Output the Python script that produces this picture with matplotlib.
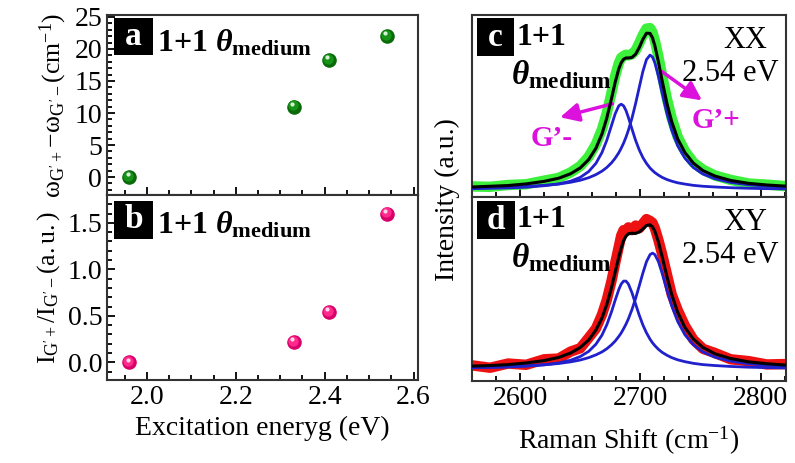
#!/usr/bin/env python3

"""Splitting of the G' band in 1+1 theta-medium bilayer: peak separation, intensity ratio and spectra."""

import matplotlib.pyplot as plt
import numpy as np
from matplotlib.patches import Rectangle
from matplotlib.ticker import MultipleLocator
from matplotlib.transforms import offset_copy

SERIF = "Liberation Serif"
plt.rcParams["font.family"] = [SERIF, "DejaVu Serif"]
plt.rcParams["mathtext.fontset"] = "custom"
plt.rcParams["mathtext.rm"] = SERIF
plt.rcParams["mathtext.it"] = SERIF + ":italic:bold"
plt.rcParams["mathtext.bf"] = SERIF + ":bold"
plt.rcParams["axes.linewidth"] = 1.5
plt.rcParams["axes.edgecolor"] = "#333333"

# excitation energies and the two derived quantities
energy = [1.96, 2.33, 2.41, 2.54]
split = [0.0, 11.0, 18.3, 22.0]
ratio = [0.0, 0.22, 0.54, 1.60]

# Raman shift grid (cm-1) for the spectra at 2.54 eV
shift = [2560, 2575, 2590, 2605, 2620, 2632, 2642, 2650, 2657, 2663,
         2668, 2672, 2676, 2679, 2682, 2684, 2686, 2688, 2690, 2693,
         2696, 2699, 2702, 2705, 2708, 2710, 2712, 2715, 2718, 2722,
         2726, 2731, 2737, 2744, 2752, 2762, 2775, 2790, 2805, 2820]

# XX polarization: measured spectrum and the two fitted components
xx_base = 0.04
xx_meas = [.058, .056, .066, .070, .090, .105, .135, .170, .222, .290,
           .372, .460, .575, .665, .735, .765, .775, .782, .778, .785,
           .805, .845, .890, .925, .928, .905, .860, .770, .668, .540,
           .432, .330, .252, .190, .150, .118, .094, .074, .068, .060]
xx_minus = [.006, .008, .010, .014, .022, .032, .047, .068, .100, .145,
            .204, .271, .354, .417, .461, .470, .461, .435, .397, .333,
            .271, .219, .177, .145, .119, .106, .094, .080, .068, .056,
            .047, .038, .031, .024, .019, .015, .011, .008, .006, .005]
xx_plus = [.009, .011, .013, .018, .024, .031, .041, .052, .066, .083,
           .102, .122, .148, .173, .203, .228, .256, .289, .327, .394,
           .474, .562, .649, .715, .740, .729, .697, .621, .532, .419,
           .327, .241, .173, .122, .086, .060, .040, .027, .020, .015]

# XY polarization
xy_base = 0.065
xy_meas = [.085, .072, .095, .088, .118, .122, .160, .178, .235, .285,
           .360, .440, .545, .640, .730, .790, .820, .815, .835, .820,
           .845, .830, .855, .880, .870, .860, .830, .765, .690, .580,
           .470, .385, .300, .225, .175, .152, .118, .108, .090, .092]
xy_minus = [.007, .009, .011, .016, .023, .033, .048, .068, .096, .135,
            .184, .240, .312, .374, .432, .462, .478, .478, .462, .414,
            .353, .293, .240, .197, .162, .143, .127, .107, .091, .075,
            .062, .050, .040, .031, .024, .019, .014, .010, .008, .006]
xy_plus = [.009, .010, .013, .017, .023, .030, .039, .049, .062, .077,
           .093, .110, .132, .152, .177, .196, .219, .244, .273, .324,
           .384, .452, .521, .583, .622, .630, .622, .583, .521, .429,
           .343, .258, .186, .132, .093, .064, .043, .029, .021, .016]

fig = plt.figure(figsize=(7.95, 4.63), dpi=100)
ax_a = fig.add_axes([0.1346, 0.5788, 0.3912, 0.3888])
ax_b = fig.add_axes([0.1346, 0.1793, 0.3912, 0.3995])
ax_c = fig.add_axes([0.5937, 0.5745, 0.3950, 0.3931])
ax_d = fig.add_axes([0.5937, 0.1771, 0.3950, 0.3974])

TICK = 20
MAG = "#dd11dd"


def sphere(ax, x, y, dark, mid, light):
    # fake 3D ball: dark rim, lighter body, small highlight up-left
    ax.scatter(x, y, s=110, color=dark, zorder=5, linewidths=0)
    body = offset_copy(ax.transData, fig=fig, x=-0.6, y=0.8, units="points")
    ax.scatter(x, y, s=55, color=mid, zorder=6, linewidths=0, transform=body)
    hi = offset_copy(ax.transData, fig=fig, x=-1.2, y=2.0, units="points")
    ax.scatter(x, y, s=9, color=light, zorder=7, linewidths=0, transform=hi)


def tag(ax, letter, box):
    # black square with a white bold letter, box = (x0, y0, w, h) in axes fraction
    x0, y0, w, h = box
    ax.add_patch(Rectangle((x0, y0), w, h, transform=ax.transAxes,
                           fc="black", ec="none", zorder=8))
    ax.text(x0 + w / 2, y0 + h / 2, letter, transform=ax.transAxes,
            ha="center", va="center", color="white", fontsize=24,
            fontweight="bold", zorder=9)


def style_ticks(ax):
    ax.tick_params(which="both", direction="in", top=False, right=False,
                   labelsize=TICK, labelfontfamily=SERIF, width=1.3)
    ax.tick_params(which="major", length=6)
    ax.tick_params(which="minor", length=3.5)


for ax in (ax_a, ax_b):
    ax.set_xlim(1.91, 2.61)
    ax.xaxis.set_major_locator(MultipleLocator(0.2))
    ax.xaxis.set_minor_locator(MultipleLocator(0.05))
    style_ticks(ax)

sphere(ax_a, energy, split, "#0a6a0a", "#179317", "#d8f2d8")
ax_a.set_ylim(-2.8, 25.3)
ax_a.yaxis.set_major_locator(MultipleLocator(5))
ax_a.yaxis.set_minor_locator(MultipleLocator(1))
ax_a.tick_params(labelbottom=False)
ax_a.set_ylabel(r"$\mathrm{\omega_{G'+}\!-\!\omega_{G'-}(cm^{-1})}$",
                fontsize=18.5, labelpad=4)
tag(ax_a, "a", (0.0225, 0.778, 0.125, 0.205))
ax_a.text(0.16, 0.80, r"1+1 $\theta_{\mathbf{medium}}$", transform=ax_a.transAxes,
          fontsize=23, fontweight="bold", ha="left", va="baseline")

sphere(ax_b, energy, ratio, "#d8006a", "#ff2a8c", "#ffd6ea")
ax_b.set_ylim(-0.19, 1.80)
ax_b.yaxis.set_major_locator(MultipleLocator(0.5))
ax_b.yaxis.set_minor_locator(MultipleLocator(0.1))
ax_b.set_ylabel(r"$\mathrm{I_{G'+}/I_{G'-}(a.u.)}$", fontsize=18.5, labelpad=4)
ax_b.set_xlabel("Excitation eneryg (eV)", fontsize=20, labelpad=4)
tag(ax_b, "b", (0.0225, 0.762, 0.125, 0.206))
ax_b.text(0.16, 0.79, r"1+1 $\theta_{\mathbf{medium}}$", transform=ax_b.transAxes,
          fontsize=23, fontweight="bold", ha="left", va="baseline")

x = np.array(shift)
panels = [
    (ax_c, "c", "XX", xx_base, xx_meas, xx_minus, xx_plus, "#3cf03c",
     (0.016, 0.776, 0.118, 0.206)),
    (ax_d, "d", "XY", xy_base, xy_meas, xy_minus, xy_plus, "#ee1111",
     (0.016, 0.770, 0.120, 0.210)),
]
for ax, letter, pol, base, meas, lo, hi, col, box in panels:
    lo = base + np.array(lo)
    hi = base + np.array(hi)
    total = lo + hi - base
    ax.plot(x, meas, color=col, lw=7.5, solid_capstyle="round",
            solid_joinstyle="round", zorder=2)
    ax.plot(x, lo, color="#2020cc", lw=2, zorder=3)
    ax.plot(x, hi, color="#2020cc", lw=2, zorder=3)
    ax.plot(x, total, color="black", lw=2.2, zorder=4)
    ax.set_xlim(2560, 2821)
    ax.set_ylim(0, 1)
    ax.xaxis.set_major_locator(MultipleLocator(100))
    ax.xaxis.set_minor_locator(MultipleLocator(20))
    style_ticks(ax)
    ax.tick_params(which="both", left=False, labelleft=False)
    tag(ax, letter, box)
    ax.text(0.143, 0.835, "1+1", transform=ax.transAxes, fontsize=23,
            fontweight="bold", ha="left", va="baseline")
    ax.text(0.125, 0.62, r"$\theta_{\mathbf{medium}}$", transform=ax.transAxes,
            fontsize=24, ha="left", va="baseline")
    ax.text(0.94, 0.82, pol, transform=ax.transAxes, fontsize=22,
            ha="right", va="baseline")
    ax.text(0.975, 0.64, "2.54 eV", transform=ax.transAxes, fontsize=22,
            ha="right", va="baseline")

ax_c.tick_params(labelbottom=False)
ax_d.set_xlabel(r"Raman Shift (cm$^{\mathrm{-1}}$)", fontsize=20, labelpad=10)

arrow = dict(arrowstyle="-|>", color=MAG, lw=2.5, mutation_scale=28)
ax_c.annotate("", xy=(2631, 0.434), xytext=(2679, 0.516), arrowprops=arrow)
ax_c.annotate("", xy=(2753, 0.522), xytext=(2716, 0.698), arrowprops=arrow)
ax_c.text(2626, 0.324, "G\u2019-", color=MAG, fontsize=21, fontweight="bold",
          ha="center", va="center")
ax_c.text(2763, 0.423, "G\u2019+", color=MAG, fontsize=21, fontweight="bold",
          ha="center", va="center")

fig.text(0.563, 0.568, "Intensity (a.u.)", rotation=90, fontsize=20,
         ha="center", va="center")

plt.savefig("out.png", dpi=100)
